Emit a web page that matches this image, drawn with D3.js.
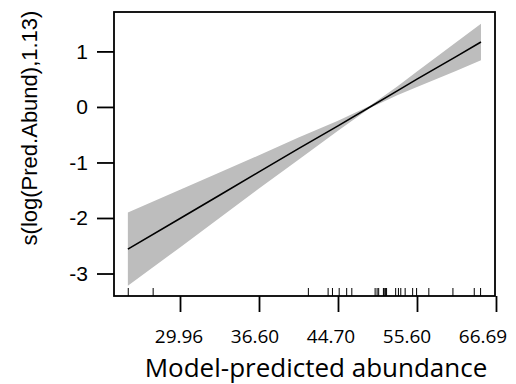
<!DOCTYPE html>
<html>
<head>
<meta charset="utf-8">
<script src="https://cdn.jsdelivr.net/npm/d3@7"></script>
<style>
  html, body { margin: 0; padding: 0; background: #fff; }
  svg { display: block; }
</style>
</head>
<body>
<svg id="chart" width="516" height="384"></svg>
<script>
// log(Pred.Abund) grid
const xVals  = [3.268, 3.4, 3.5, 3.6, 3.7, 3.8, 3.881, 3.95, 4.0, 4.1, 4.162];
const fit    = [-2.56, -2.01, -1.59, -1.17, -0.75, -0.34, 0.00, 0.29, 0.50, 0.91, 1.17];
const upper  = [-1.90, -1.49, -1.18, -0.87, -0.55, -0.25, 0.02, 0.37, 0.64, 1.17, 1.50];
const lower  = [-3.22, -2.53, -2.00, -1.47, -0.95, -0.43, -0.02, 0.21, 0.36, 0.65, 0.84];
// rug of observed log(Pred.Abund)
const rug = [3.269, 3.332, 3.725, 3.775, 3.786, 3.803, 3.822, 3.835, 3.894, 3.899, 3.903,
             3.915, 3.917, 3.920, 3.923, 3.946, 3.953, 3.959, 3.970, 3.989, 3.999, 4.030,
             4.091, 4.145, 4.161];
const xTickVals   = [3.4, 3.6, 3.8, 4.0, 4.2];
const xTickLabels = ["29.96", "36.60", "44.70", "55.60", "66.69"];
const yTickVals   = [-3, -2, -1, 0, 1];
const yLabel = "s(log(Pred.Abund),1.13)";
const xLabel = "Model-predicted abundance";

const L = 114, R = 495, T = 12, B = 296;
const svg = d3.select("#chart");

const x = d3.scaleLinear().domain([3.2329, 4.1975]).range([L, R]);
const y = d3.scaleLinear().domain([-3.405, 1.71]).range([B, T]);
// tick labels in the original sit on a slightly compressed spacing
const xLab = d3.scaleLinear().domain([3.4, 4.2]).range([179, 483]);

const pts = xVals.map((v, i) => ({x: v, f: fit[i], u: upper[i], l: lower[i]}));

// band
svg.append("path")
  .datum(pts)
  .attr("fill", "#bdbdbd")
  .attr("d", d3.area().x(d => x(d.x)).y0(d => y(d.l)).y1(d => y(d.u)));

// fit line
svg.append("path")
  .datum(pts)
  .attr("fill", "none")
  .attr("stroke", "#000")
  .attr("stroke-width", 1.6)
  .attr("d", d3.line().x(d => x(d.x)).y(d => y(d.f)));

// rug
svg.append("g").selectAll("line").data(rug).join("line")
  .attr("x1", d => x(d)).attr("x2", d => x(d))
  .attr("y1", B).attr("y2", B - 8)
  .attr("stroke", "#000").attr("stroke-width", 1);

// box
svg.append("rect")
  .attr("x", L).attr("y", T).attr("width", R - L).attr("height", B - T)
  .attr("fill", "none").attr("stroke", "#000").attr("stroke-width", 1.8);

// y axis
const yAxis = d3.axisLeft(y).tickValues(yTickVals).tickSize(17).tickPadding(9)
  .tickFormat(d => d < 0 ? "-" + Math.abs(d) : String(d));
const gy = svg.append("g").attr("transform", `translate(${L},0)`).call(yAxis);
gy.select(".domain").remove();
gy.selectAll(".tick line").attr("stroke", "#000").attr("stroke-width", 1.8);
gy.selectAll(".tick text").attr("fill", "#000")
  .style("font-family", "'Liberation Sans', Arial, sans-serif").style("font-size", "21px");

// x axis
const xAxis = d3.axisBottom(x).tickValues(xTickVals).tickSize(16).tickFormat("");
const gx = svg.append("g").attr("transform", `translate(0,${B})`).call(xAxis);
gx.select(".domain").remove();
gx.selectAll(".tick line").attr("stroke", "#000").attr("stroke-width", 1.8);

svg.append("g").selectAll("text").data(xTickVals).join("text")
  .attr("x", d => xLab(d)).attr("y", 343)
  .attr("text-anchor", "middle")
  .attr("fill", "#000")
  .style("font-family", "'Open Sans', sans-serif").style("font-size", "19px")
  .text((d, i) => xTickLabels[i]);

// titles
svg.append("text")
  .attr("transform", `translate(37,${128}) rotate(-90)`)
  .attr("text-anchor", "middle")
  .style("font-family", "'Liberation Sans', Arial, sans-serif").style("font-size", "22px")
  .text(yLabel);

svg.append("text")
  .attr("x", 316).attr("y", 377)
  .attr("text-anchor", "middle")
  .style("font-family", "'Open Sans', sans-serif").style("font-size", "26px")
  .text(xLabel);
</script>
</body>
</html>
